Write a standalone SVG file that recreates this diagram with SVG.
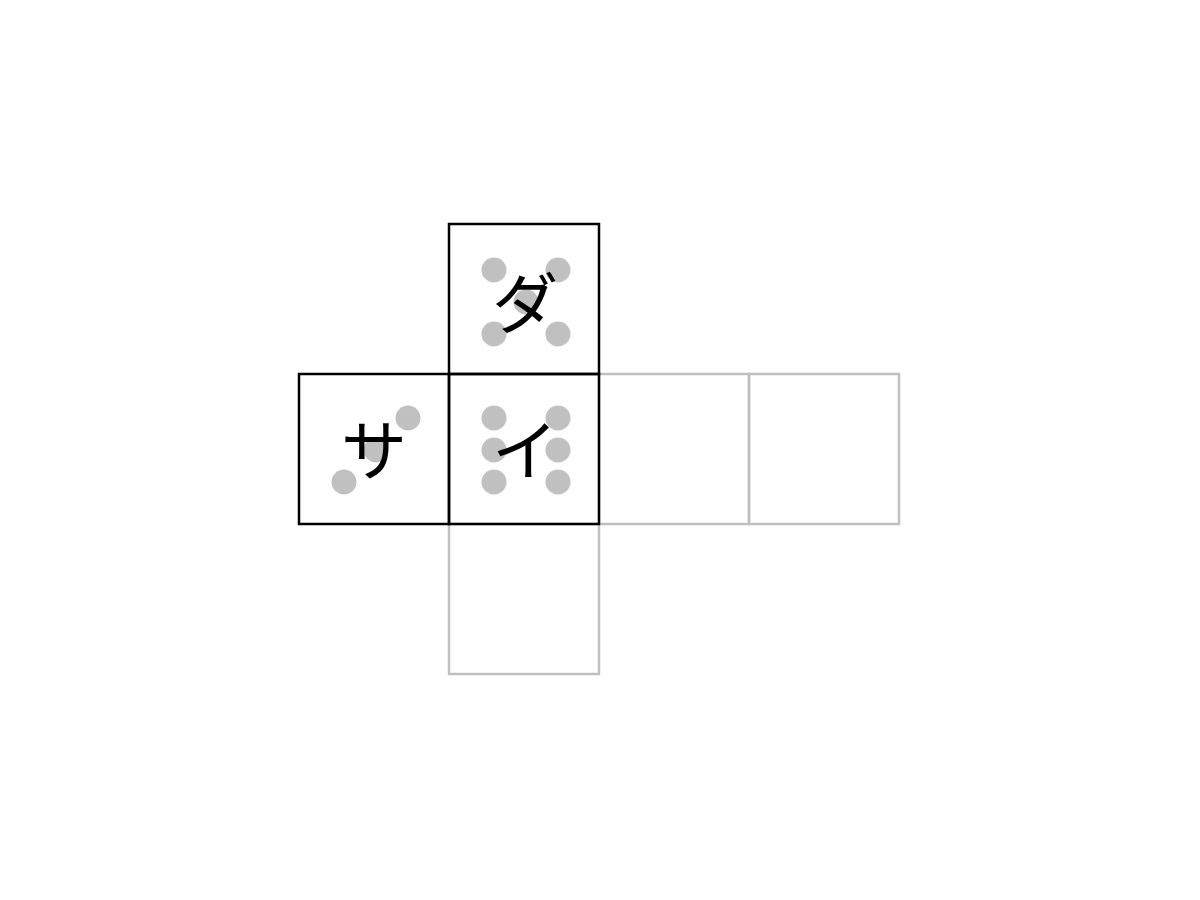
<svg xmlns="http://www.w3.org/2000/svg" width="1200" height="900" viewBox="0 0 1200 900">
<style>
.faint{fill:none;stroke:#c0c0c0;stroke-width:2.5}
.bold{fill:none;stroke:#000;stroke-width:2.5}
.pip{fill:#c0c0c0}
.lbl{font-family:"Noto Sans CJK JP","Noto Sans",sans-serif;font-size:66px;font-weight:400;fill:#000;text-anchor:middle}
</style>
<rect width="1200" height="900" fill="#fff"/>
<g id="face-right1"><rect class="faint" x="599" y="374" width="150" height="150"/></g>
<g id="face-right2"><rect class="faint" x="749" y="374" width="150" height="150"/></g>
<g id="face-bottom"><rect class="faint" x="449" y="524" width="150" height="150"/></g>
<g id="face-left">
<rect class="bold" x="299" y="374" width="150" height="150"/>
<circle class="pip" cx="344" cy="482" r="12.5"/>
<circle class="pip" cx="376" cy="450" r="12.5"/>
<circle class="pip" cx="408" cy="418" r="12.5"/>
<text class="lbl" x="374" y="475">サ</text>
</g>
<g id="face-top">
<rect class="bold" x="449" y="224" width="150" height="150"/>
<circle class="pip" cx="494" cy="270" r="12.5"/>
<circle class="pip" cx="558" cy="270" r="12.5"/>
<circle class="pip" cx="526" cy="302" r="12.5"/>
<circle class="pip" cx="494" cy="334" r="12.5"/>
<circle class="pip" cx="558" cy="334" r="12.5"/>
<text class="lbl" x="525" y="328">ダ</text>
</g>
<g id="face-center">
<rect class="bold" x="449" y="374" width="150" height="150"/>
<circle class="pip" cx="494" cy="418" r="12.5"/>
<circle class="pip" cx="558" cy="418" r="12.5"/>
<circle class="pip" cx="494" cy="450" r="12.5"/>
<circle class="pip" cx="558" cy="450" r="12.5"/>
<circle class="pip" cx="494" cy="482" r="12.5"/>
<circle class="pip" cx="558" cy="482" r="12.5"/>
<text class="lbl" x="525" y="475">イ</text>
</g>
<g id="connectors"></g>
</svg>
